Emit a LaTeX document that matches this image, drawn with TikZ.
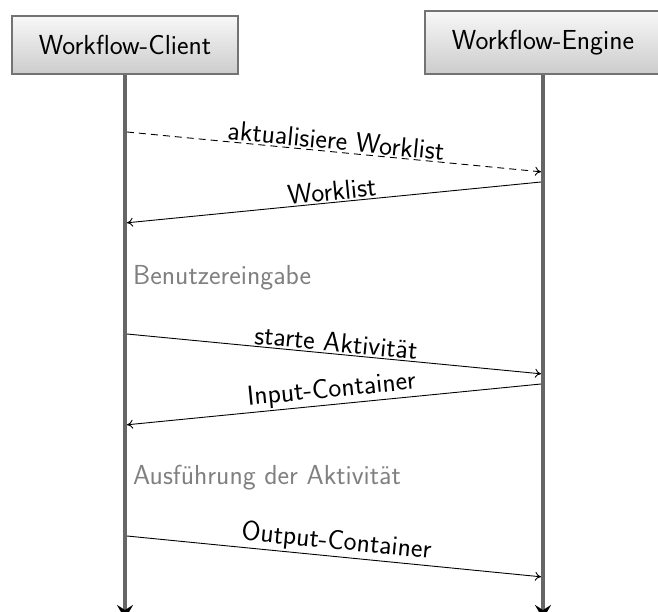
\documentclass[tikz,border=0pt]{standalone}
\usetikzlibrary{arrows.meta}
\begin{document}
\begin{tikzpicture}[x=1pt,y=-1pt,
  font=\sffamily\fontsize{27.5}{33}\selectfont,
  actor/.style={draw=black!55, line width=2pt, top color=black!3, bottom color=black!20,
    inner xsep=27pt, inner ysep=19pt, anchor=south},
  lifeline/.style={draw=black!60, line width=4pt, -{Stealth[black,length=14pt,width=16pt,inset=5pt]}},
  msg/.style={draw=black, line width=0.9pt, -{To[length=6pt,width=9pt]}, shorten >=2pt},
  lbl/.style={midway, sloped, above, inner sep=1.5pt},
  note/.style={text=black!50, anchor=west, inner sep=0pt}]
\useasboundingbox (0,0) rectangle (658,612);
\node[actor] (client) at (125,75) {Workflow-Client};
\node[actor] (engine) at (543,75) {Workflow-Engine};
\coordinate (cend) at (125,619);
\coordinate (eend) at (543,619);
\draw[lifeline] (client.south) -- (cend);
\draw[lifeline] (engine.south) -- (eend);
% message endpoints
\coordinate (c1) at (127,132); \coordinate (e1) at (543,172);
\coordinate (e2) at (541,182); \coordinate (c2) at (125,223);
\coordinate (c3) at (127,334); \coordinate (e3) at (543,374);
\coordinate (e4) at (541,384); \coordinate (c4) at (125,425);
\coordinate (c5) at (127,536); \coordinate (e5) at (543,577);
\draw[msg, dash pattern=on 7pt off 5pt] (c1) -- node[lbl] {aktualisiere Worklist} (e1);
\draw[msg] (e2) -- node[lbl] {Worklist} (c2);
\draw[msg] (c3) -- node[lbl] {starte Aktivität} (e3);
\draw[msg] (e4) -- node[lbl] {Input-Container} (c4);
\draw[msg] (c5) -- node[lbl] {Output-Container} (e5);
\node[note] (n1) at (133,278) {Benutzereingabe};
\node[note] (n2) at (133,478) {Ausführung der Aktivität};
\end{tikzpicture}
\end{document}
